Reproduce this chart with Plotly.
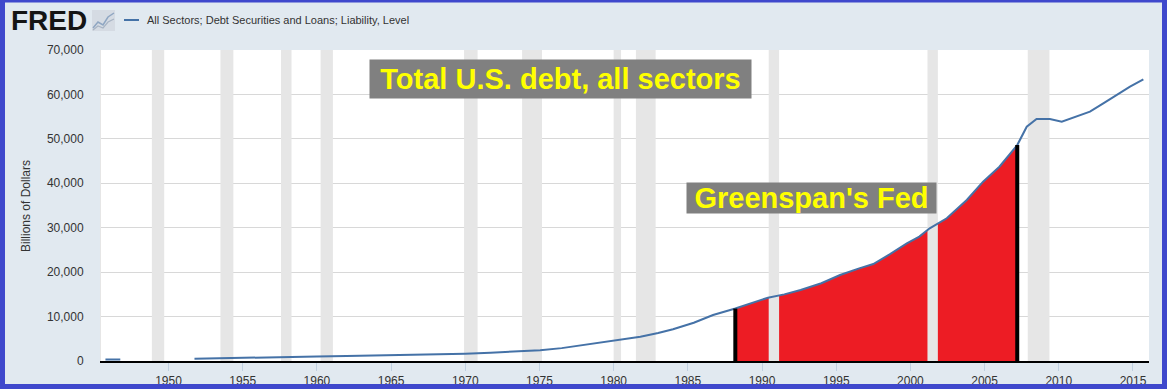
import plotly.graph_objects as go

# ---------------- data ----------------
years = [1945.75, 1946.75, None,
         1951.75, 1953.75, 1956.0, 1958.25, 1960.0, 1962.0, 1964.9, 1967.0,
         1968.3, 1970.0, 1971.7, 1973.0, 1975.05, 1976.5, 1978.4, 1980.0,
         1981.8, 1983.0, 1984.0, 1985.4, 1986.7, 1988.2, 1989.3, 1990.4,
         1991.5, 1992.6, 1994.0, 1995.26, 1996.5, 1997.5, 1998.6, 1999.76,
         2000.6, 2001.3, 2002.45, 2003.8, 2004.9, 2006.0, 2007.2, 2007.84,
         2008.5, 2009.4, 2010.2, 2011.0, 2012.1, 2013.0, 2013.7, 2014.8, 2015.7]
debt = [355, 365, None,
        520, 600, 740, 900, 1000, 1120, 1280, 1420,
        1500, 1650, 1870, 2100, 2400, 2900, 3760, 4600,
        5470, 6300, 7130, 8620, 10350, 11800, 13100, 14250,
        15000, 15980, 17500, 19360, 20800, 21830, 24000, 26480,
        28000, 29860, 32120, 36240, 40360, 43730, 48600, 52730,
        54470, 54470, 53870, 54850, 56120, 58000, 59500, 61750, 63400]

rec_start = [1948.88, 1953.5, 1957.58, 1960.25, 1969.92, 1973.83, 1980.0,
             1981.5, 1990.45, 2001.15, 2007.91]
rec_end = [1949.71, 1954.37, 1958.29, 1961.08, 1970.83, 1975.17, 1980.5,
           1982.83, 1991.15, 2001.85, 2009.37]

fed_start, fed_end = 1988.2, 2007.2
fed_start_level, fed_end_level = 11800, 48600

x_ticks = list(range(1950, 2016, 5))
y_ticks = list(range(0, 70001, 10000))

series_name = "All Sectors; Debt Securities and Loans; Liability, Level"
title_text = "Total U.S. debt, all sectors"
fed_text = "Greenspan's Fed"
y_title = "Billions of Dollars"

# ---------------- layout geometry ----------------
W, H = 1167, 389
ML, MR, MT, MB = 101, 18, 50, 28
PW, PH = W - ML - MR, H - MT - MB


def px_x(px):
    return (px - ML) / PW


def px_y(py):
    return (H - MB - py) / PH


FONT = "Liberation Sans, Arial, sans-serif"
BLUE = "#4572A7"

fig = go.Figure()

# red area under the curve for the Greenspan years
fx = [x for x, y in zip(years, debt) if x is not None and fed_start <= x <= fed_end]
fy = [y for x, y in zip(years, debt) if x is not None and fed_start <= x <= fed_end]
fig.add_trace(go.Scatter(x=fx, y=fy, mode="lines", fill="tozeroy",
                         fillcolor="#ED1C24", line=dict(width=0, color="#ED1C24"),
                         hoverinfo="skip", showlegend=False))

# recession shading
rx, ry = [], []
for s, e in zip(rec_start, rec_end):
    rx += [s, s, e, e, s, None]
    ry += [0, 70000, 70000, 0, 0, None]
fig.add_trace(go.Scatter(x=rx, y=ry, mode="lines", fill="toself",
                         fillcolor="#E6E6E6", line=dict(width=0),
                         hoverinfo="skip", showlegend=False))

# main series
fig.add_trace(go.Scatter(x=years, y=debt, mode="lines", name=series_name,
                         line=dict(color=BLUE, width=2), connectgaps=False,
                         showlegend=False))

# black markers of the Greenspan period
for xv, lv in [(fed_start, fed_start_level), (fed_end, fed_end_level)]:
    fig.add_trace(go.Scatter(x=[xv, xv], y=[0, lv], mode="lines",
                             line=dict(color="black", width=4),
                             hoverinfo="skip", showlegend=False))

shapes = []
# blue frame around the whole picture
BC = "#3F48CC"
for (x0, y0, x1, y1) in [(0, 0, 5, H), (W - 5, 0, W, H), (0, 0, W, 2.5), (0, H - 5, W, H)]:
    shapes.append(dict(type="rect", xref="paper", yref="paper",
                       x0=px_x(x0), x1=px_x(x1), y0=px_y(y1), y1=px_y(y0),
                       fillcolor=BC, line=dict(width=0), layer="above"))
# legend line
shapes.append(dict(type="line", xref="paper", yref="paper",
                   x0=px_x(124), x1=px_x(139), y0=px_y(20), y1=px_y(20),
                   line=dict(color=BLUE, width=2)))
# FRED icon box
shapes.append(dict(type="rect", xref="paper", yref="paper",
                   x0=px_x(92), x1=px_x(115), y0=px_y(31), y1=px_y(10),
                   fillcolor="#D5DBE3", line=dict(width=0)))
shapes.append(dict(type="path", xref="paper", yref="paper",
                   path="M {} {} L {} {} L {} {} L {} {} L {} {}".format(
                       px_x(93), px_y(28), px_x(98), px_y(22), px_x(103), px_y(25),
                       px_x(108), px_y(17), px_x(114), px_y(13)),
                   line=dict(color="#8FA6C2", width=1.5)))
shapes.append(dict(type="path", xref="paper", yref="paper",
                   path="M {} {} L {} {} L {} {} L {} {} L {} {}".format(
                       px_x(93), px_y(30), px_x(98), px_y(26), px_x(103), px_y(28),
                       px_x(108), px_y(22), px_x(114), px_y(19)),
                   line=dict(color="#A8B4C4", width=1.2)))

annotations = [
    dict(xref="paper", yref="paper", x=px_x(49), y=px_y(20), text="<b>FRED</b>",
         showarrow=False, xanchor="center", yanchor="middle",
         font=dict(family=FONT, size=28, color="#151515")),
    dict(xref="paper", yref="paper", x=px_x(145), y=px_y(20), text=series_name,
         showarrow=False, xanchor="left", yanchor="middle",
         font=dict(family=FONT, size=11, color="#333333")),
    dict(xref="paper", yref="paper", x=px_x(26), y=px_y(206), text=y_title,
         showarrow=False, textangle=-90, xanchor="center", yanchor="middle",
         font=dict(family=FONT, size=12, color="#333333")),
    dict(xref="paper", yref="paper", x=px_x(560.5), y=px_y(79), text="<b>" + title_text + "</b>",
         showarrow=False, xanchor="center", yanchor="middle",
         width=381, height=38, borderpad=0, bgcolor="#808080",
         font=dict(family=FONT, size=29, color="#FFFF00")),
    dict(xref="paper", yref="paper", x=px_x(811.5), y=px_y(198.3), text="<b>" + fed_text + "</b>",
         showarrow=False, xanchor="center", yanchor="middle",
         width=249, height=30, borderpad=0, bgcolor="#808080",
         font=dict(family=FONT, size=29, color="#FFFF00")),
]

fig.update_layout(
    width=W, height=H,
    margin=dict(l=ML, r=MR, t=MT, b=MB, pad=0, autoexpand=False),
    paper_bgcolor="#E1E9F0", plot_bgcolor="#FFFFFF",
    showlegend=False,
    shapes=shapes, annotations=annotations,
    xaxis=dict(range=[1945.45, 2016.08], tickmode="array", tickvals=x_ticks,
               ticktext=[str(v) for v in x_ticks], automargin=False,
               showgrid=False, zeroline=False,
               showline=True, linecolor="black", linewidth=2,
               ticks="outside", ticklen=8, tickwidth=1, tickcolor="#C0D0E0",
               tickfont=dict(family=FONT, size=12, color="#333333")),
    yaxis=dict(range=[0, 70000], tickmode="array", tickvals=y_ticks,
               tickformat=",", automargin=False,
               showgrid=True, gridcolor="#D8D8D8", gridwidth=1,
               zeroline=False, showline=True, linecolor="#E6E6E6", linewidth=1,
               ticks="", ticklabelstandoff=14,
               tickfont=dict(family=FONT, size=12, color="#333333")),
)

fig.write_html("out.html", config={"displayModeBar": False},
               post_script="document.body.style.margin='0';document.body.style.overflow='hidden';")
